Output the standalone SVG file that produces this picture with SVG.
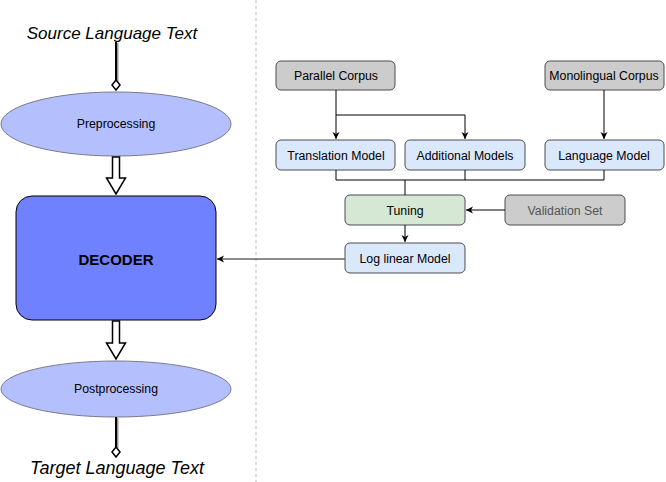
<svg xmlns="http://www.w3.org/2000/svg" width="666" height="482" viewBox="0 0 666 482">
<defs>
<marker id="ah" markerWidth="8" markerHeight="8" refX="7" refY="4" orient="auto" markerUnits="userSpaceOnUse">
<path d="M0,0.5 L7,4 L0,7.5 L2,4 Z" fill="#000"/>
</marker>
</defs>
<style>
text{font-family:"Liberation Sans",Arial,sans-serif;fill:#000}
.lbl{font-size:12.3px;text-anchor:middle;dominant-baseline:central}
.big{font-size:17px;font-style:italic;text-anchor:middle}
.box{stroke:#4d4d4d;stroke-width:1}
.gray{fill:#cccccc}
.blue{fill:#dae8fc}
.green{fill:#d5e8d4}
.ell{fill:#b4c0fd;stroke:#7a7a8c;stroke-width:1}
.conn{fill:none;stroke:#000;stroke-width:1}
.hollow{fill:#fff;stroke:#000;stroke-width:1.5}
</style>
<line x1="256" y1="0" x2="256" y2="482" stroke="#bbb" stroke-dasharray="3,3"/>

<g id="source-text"><text class="big" x="112" y="39">Source Language Text</text></g>
<g id="preprocessing"><ellipse class="ell" cx="116" cy="124" rx="115" ry="32"/><text class="lbl" x="116" y="124">Preprocessing</text></g>
<g id="decoder"><rect x="16" y="196" width="200" height="124" rx="16" fill="#6f81ff" stroke="#000" stroke-width="1"/><text class="lbl" x="116" y="259" style="font-weight:bold;font-size:15px">DECODER</text></g>
<g id="postprocessing"><ellipse class="ell" cx="116" cy="389" rx="115" ry="28"/><text class="lbl" x="116" y="389">Postprocessing</text></g>
<g id="target-text"><text class="big" x="117" y="474" style="font-size:18px">Target Language Text</text></g>

<g id="parallel-corpus"><rect class="box gray" x="276" y="61" width="119" height="29" rx="5"/><text class="lbl" x="336" y="75.5">Parallel Corpus</text></g>
<g id="monolingual-corpus"><rect class="box gray" x="545" y="61" width="119" height="29" rx="5"/><text class="lbl" x="604" y="75.5">Monolingual Corpus</text></g>
<g id="translation-model"><rect class="box blue" x="276" y="140" width="119" height="30" rx="5"/><text class="lbl" x="336" y="155.5">Translation Model</text></g>
<g id="additional-models"><rect class="box blue" x="405" y="140" width="120" height="30" rx="5"/><text class="lbl" x="465" y="155.5">Additional Models</text></g>
<g id="language-model"><rect class="box blue" x="545" y="140" width="119" height="30" rx="5"/><text class="lbl" x="604" y="155.5">Language Model</text></g>
<g id="tuning"><rect class="box green" x="345" y="195" width="120" height="30" rx="5"/><text class="lbl" x="405" y="210.5">Tuning</text></g>
<g id="validation-set"><rect class="box gray" x="505" y="195" width="120" height="30" rx="5"/><text class="lbl" x="565" y="210.5" style="fill:#555">Validation Set</text></g>
<g id="log-linear-model"><rect class="box blue" x="345" y="243" width="120" height="30" rx="5"/><text class="lbl" x="405" y="258.5">Log linear Model</text></g>

<g id="connectors">
<line x1="117.5" y1="43" x2="117.5" y2="82" stroke="#999" stroke-width="2"/>
<line x1="116" y1="42" x2="116" y2="81" stroke="#000" stroke-width="2"/>
<path d="M116,80 L120,85 L116,90 L112,85 Z" fill="#fff" stroke="#000" stroke-width="1.5"/>
<path class="hollow" d="M112.5,157 L119.5,157 L119.5,178 L125.5,178 L116,194 L106.5,178 L112.5,178 Z"/>
<path class="hollow" d="M112.5,321 L119.5,321 L119.5,343 L125.5,343 L116,359 L106.5,343 L112.5,343 Z"/>
<line x1="117.5" y1="418" x2="117.5" y2="448" stroke="#999" stroke-width="2"/>
<line x1="116" y1="417" x2="116" y2="447" stroke="#000" stroke-width="2"/>
<path d="M116,447 L120,452 L116,457 L112,452 Z" fill="#fff" stroke="#000" stroke-width="1.5"/>

<path class="conn" d="M336,90 V139" marker-end="url(#ah)"/>
<path class="conn" d="M336,115 H465 V139" marker-end="url(#ah)"/>
<path class="conn" d="M604,90 V139" marker-end="url(#ah)"/>
<path class="conn" d="M336,170 V180 H604 V170 M465,170 V180 M405,180 V195"/>
<path class="conn" d="M505,210 H466" marker-end="url(#ah)"/>
<path class="conn" d="M405,225 V242" marker-end="url(#ah)"/>
<path d="M345,259 H217" fill="none" stroke="#666" stroke-width="1.5" marker-end="url(#ah)"/>
</g>
</svg>
